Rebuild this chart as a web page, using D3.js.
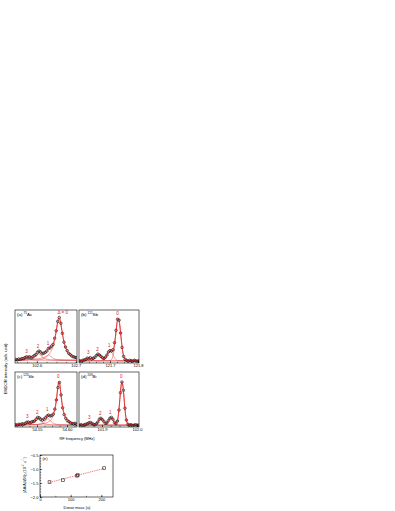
<!DOCTYPE html>
<html>
<head>
<meta charset="utf-8">
<script src="https://cdn.jsdelivr.net/npm/d3@7"></script>
<style>
  body { margin: 0; background: #fff; }
  svg { display: block; font-family: "Liberation Sans", Arial, sans-serif; }
</style>
</head>
<body>
<svg id="chart" width="395" height="511"></svg>
<script>
// ---------- data ----------
const panelTags = ["(a)", "(b)", "(c)", "(d)"];
const isoMass = ["75", "121", "123", "209"];
const isoElem = ["As", "Sb", "Sb", "Bi"];

// RF sweep of each ENDOR spectrum (MHz): first point and step
const sweepStart = [102.5456, 121.592, 54.5147, 101.8366];
const sweepStep = [0.004, 0.0054, 0.0026, 0.0043];

// measured ENDOR intensity (arb. unit)
const intensAs75 = [.08,.07,.09,.08,.10,.10,.12,.14,.13,.14,.12,.14,.17,.19,.24,.27,.25,.21,.22,.24,
                    .27,.33,.34,.38,.42,.56,.73,.94,1.03,.90,.67,.47,.36,.28,.22,.19,.16,.14,.13,.12];
const intensSb121 = [.05,.04,.06,.07,.08,.11,.10,.12,.09,.11,.13,.17,.20,.18,.15,.12,.10,.13,.18,.25,
                     .28,.27,.30,.46,.74,.99,.97,.68,.35,.15,.08,.06,.04,.06,.05,.04,.06,.05,.04,.05];
const intensSb123 = [.05,.04,.06,.05,.07,.06,.08,.10,.11,.09,.11,.12,.13,.17,.21,.20,.17,.15,.17,.20,
                     .24,.26,.24,.25,.28,.39,.59,.86,.97,.70,.42,.27,.19,.14,.12,.09,.08,.07,.08,.06];
const intensBi209 = [.04,.05,.03,.05,.06,.07,.09,.10,.08,.06,.05,.07,.11,.17,.19,.16,.12,.08,.09,.14,
                     .19,.21,.17,.10,.07,.13,.37,.75,.98,.80,.41,.15,.06,.04,.05,.03,.04,.05,.04,.04];

// fitted components: centre (MHz), amplitude, FWHM (MHz); order 0,1,2,3
const peakPosAs75 = [102.6572, 102.6308, 102.6051, 102.5756];
const peakAmpAs75 = [0.95, 0.12, 0.15, 0.05];
const peakFwhmAs75 = [0.0218, 0.0179, 0.0179, 0.0179];
const peakPosSb121 = [121.7296, 121.700, 121.6582, 121.625];
const peakAmpSb121 = [0.96, 0.22, 0.14, 0.06];
const peakFwhmSb121 = [0.0214, 0.025, 0.025, 0.025];
const peakPosSb123 = [54.5867, 54.5683, 54.5517, 54.535];
const peakAmpSb123 = [0.94, 0.14, 0.13, 0.04];
const peakFwhmSb123 = [0.010, 0.01167, 0.01167, 0.01167];
const peakPosBi209 = [101.9571, 101.9257, 101.8971, 101.8657];
const peakAmpBi209 = [0.94, 0.17, 0.15, 0.05];
const peakFwhmBi209 = [0.0143, 0.0157, 0.0171, 0.0171];
const fitBaseline = [0.06, 0.05, 0.04, 0.04];
const lineShape = ["lorentz", "gauss", "lorentz", "gauss"];

const peakLabelsAs = ["\u0394 = 0", "1", "2", "3"];
const peakLabels = ["0", "1", "2", "3"];

// frequency axes
const freqDomain = [[102.544, 102.703], [121.5893, 121.8036], [54.5133, 54.6167], [101.8343, 102.0057]];
const freqTicks = [[102.6, 102.7], [121.7, 121.8], [54.55, 54.60], [101.9, 102.0]];
const freqMinorStep = [0.025, 0.025, 0.0125, 0.025];
const freqFormat = [".1f", ".1f", ".2f", ".1f"];

// panel (e)
const donorMass = [31, 75, 121, 123, 209];
const shiftRatio = [-1.47, -1.40, -1.24, -1.22, -0.97];
const fitMass = [31, 209];
const fitRatio = [-1.48, -0.98];
const massTicks = [0, 100, 200];
const ratioTicks = [-2.0, -1.5, -1.0, -0.5];

// ---------- drawing ----------
const svg = d3.select("#chart");
const red = "#e3201f";
const fs = 4;

const intens = [intensAs75, intensSb121, intensSb123, intensBi209];
const peakPos = [peakPosAs75, peakPosSb121, peakPosSb123, peakPosBi209];
const peakAmp = [peakAmpAs75, peakAmpSb121, peakAmpSb123, peakAmpBi209];
const peakFwhm = [peakFwhmAs75, peakFwhmSb121, peakFwhmSb123, peakFwhmBi209];

const boxes = [
  {x0: 15, x1: 77, y0: 310, y1: 363},
  {x0: 79, x1: 139, y0: 310, y1: 363},
  {x0: 15, x1: 77, y0: 372, y1: 427},
  {x0: 79, x1: 139, y0: 372, y1: 427}
];

function shape(kind, f, c, a, w) {
  const u = (f - c) / w;
  if (kind === "gauss") return a * Math.exp(-4 * Math.LN2 * u * u);
  return a / (1 + 4 * u * u);
}

boxes.forEach((b, i) => {
  const x = d3.scaleLinear().domain(freqDomain[i]).range([b.x0, b.x1]);
  const y = d3.scaleLinear().domain([0, 1.2]).range([b.y1, b.y0]);
  const g = svg.append("g");

  g.append("clipPath").attr("id", "clip" + i)
    .append("rect").attr("x", b.x0).attr("y", b.y0)
    .attr("width", b.x1 - b.x0).attr("height", b.y1 - b.y0);
  const plot = g.append("g").attr("clip-path", "url(#clip" + i + ")");

  const grid = d3.range(freqDomain[i][0], freqDomain[i][1], (freqDomain[i][1] - freqDomain[i][0]) / 300);
  const comp = (f, k) => shape(lineShape[i], f, peakPos[i][k], peakAmp[i][k], peakFwhm[i][k]);
  const fit = f => fitBaseline[i] + d3.sum(peakPos[i], (c, k) => comp(f, k));

  // components
  peakPos[i].forEach((c, k) => {
    plot.append("path")
      .datum(grid)
      .attr("fill", "none").attr("stroke", red).attr("stroke-width", 0.45)
      .attr("d", d3.line().x(f => x(f)).y(f => y(fitBaseline[i] + comp(f, k))));
  });

  // data points
  const pts = intens[i].map((v, j) => [sweepStart[i] + j * sweepStep[i], v]);
  plot.selectAll("circle").data(pts).enter().append("circle")
    .attr("cx", d => x(d[0])).attr("cy", d => y(d[1])).attr("r", 1.25)
    .attr("fill", "none").attr("stroke", "#111").attr("stroke-width", 0.7);

  // total fit
  plot.append("path")
    .datum(grid)
    .attr("fill", "none").attr("stroke", red).attr("stroke-width", 0.9)
    .attr("d", d3.line().x(f => x(f)).y(f => y(fit(f))));

  // frame
  g.append("rect").attr("x", b.x0).attr("y", b.y0)
    .attr("width", b.x1 - b.x0).attr("height", b.y1 - b.y0)
    .attr("fill", "none").attr("stroke", "#000").attr("stroke-width", 0.6);

  // x axis
  const minor = d3.range(Math.ceil(freqDomain[i][0] / freqMinorStep[i]) * freqMinorStep[i], freqDomain[i][1], freqMinorStep[i]);
  g.append("g").attr("transform", `translate(0,${b.y1})`)
    .call(d3.axisBottom(x).tickValues(minor).tickSize(-1.2).tickFormat(""))
    .call(a => a.select(".domain").remove())
    .call(a => a.selectAll("line").attr("stroke-width", 0.5));
  g.append("g").attr("transform", `translate(0,${b.y1})`)
    .call(d3.axisBottom(x).tickValues(freqTicks[i]).tickSize(-2.2).tickPadding(1.6).tickFormat(d3.format(freqFormat[i])))
    .call(a => a.select(".domain").remove())
    .call(a => a.selectAll("line").attr("stroke-width", 0.5))
    .call(a => a.selectAll("text").attr("font-size", fs).attr("font-family", "Liberation Sans, Arial, sans-serif"));

  // title
  const t = g.append("text").attr("x", b.x0 + 2).attr("y", b.y0 + 5.6).attr("font-size", 4.4);
  t.append("tspan").text(panelTags[i] + " ");
  t.append("tspan").attr("font-size", 3).attr("dy", -1.5).text(isoMass[i]);
  t.append("tspan").attr("dy", 1.5).text(isoElem[i]);

  // peak labels
  const labs = i === 0 ? peakLabelsAs : peakLabels;
  peakPos[i].forEach((c, k) => {
    const lx = x(c) - (i === 0 && k === 0 ? 1.6 : 0.8);
    g.append("text")
      .attr("x", lx).attr("y", y(fit(c)) - 3.6)
      .attr("text-anchor", i === 0 && k === 0 ? "start" : "middle")
      .attr("font-size", 4.6).attr("fill", red)
      .text(labs[k]);
  });
});

// shared axis titles
svg.append("text")
  .attr("transform", "translate(6.5,369) rotate(-90)")
  .attr("text-anchor", "middle").attr("font-size", 4.2)
  .text("ENDOR intensity (arb. unit)");
svg.append("text")
  .attr("x", 77).attr("y", 439.5)
  .attr("text-anchor", "middle").attr("font-size", 3.9)
  .text("RF frequency (MHz)");

// ---------- panel (e) ----------
const eb = {x0: 40, x1: 113, y0: 455, y1: 497};
const xe = d3.scaleLinear().domain([0, 238]).range([eb.x0, eb.x1]);
const ye = d3.scaleLinear().domain([-2.0, -0.5]).range([eb.y1, eb.y0]);
const ge = svg.append("g");

ge.append("rect").attr("x", eb.x0).attr("y", eb.y0)
  .attr("width", eb.x1 - eb.x0).attr("height", eb.y1 - eb.y0)
  .attr("fill", "none").attr("stroke", "#000").attr("stroke-width", 0.6);

ge.append("g").attr("transform", `translate(${eb.x0},0)`)
  .call(d3.axisLeft(ye).tickValues(d3.range(-2.0, -0.45, 0.1)).tickSize(-1.2).tickFormat(""))
  .call(a => a.select(".domain").remove())
  .call(a => a.selectAll("line").attr("stroke-width", 0.5));
ge.append("g").attr("transform", `translate(${eb.x0},0)`)
  .call(d3.axisLeft(ye).tickValues(ratioTicks).tickSize(-2.2).tickPadding(1.6).tickFormat(d3.format(".1f")))
  .call(a => a.select(".domain").remove())
  .call(a => a.selectAll("line").attr("stroke-width", 0.5))
  .call(a => a.selectAll("text").attr("font-size", fs).attr("font-family", "Liberation Sans, Arial, sans-serif"));

ge.append("g").attr("transform", `translate(0,${eb.y1})`)
  .call(d3.axisBottom(xe).tickValues(d3.range(0, 238, 50)).tickSize(-1.2).tickFormat(""))
  .call(a => a.select(".domain").remove())
  .call(a => a.selectAll("line").attr("stroke-width", 0.5));
ge.append("g").attr("transform", `translate(0,${eb.y1})`)
  .call(d3.axisBottom(xe).tickValues(massTicks).tickSize(-2.2).tickPadding(1.6))
  .call(a => a.select(".domain").remove())
  .call(a => a.selectAll("line").attr("stroke-width", 0.5))
  .call(a => a.selectAll("text").attr("font-size", fs).attr("font-family", "Liberation Sans, Arial, sans-serif"));

ge.append("path")
  .datum(fitMass.map((m, j) => [m, fitRatio[j]]))
  .attr("fill", "none").attr("stroke", red).attr("stroke-width", 0.6)
  .attr("stroke-dasharray", "1.4,0.9")
  .attr("d", d3.line().x(d => xe(d[0])).y(d => ye(d[1])));

ge.selectAll(".sq").data(donorMass.map((m, j) => [m, shiftRatio[j]])).enter()
  .append("rect").attr("class", "sq")
  .attr("x", d => xe(d[0]) - 1.4).attr("y", d => ye(d[1]) - 1.4)
  .attr("width", 2.8).attr("height", 2.8)
  .attr("fill", "none").attr("stroke", "#3a1414").attr("stroke-width", 0.6);

ge.append("text").attr("x", eb.x0 + 2.5).attr("y", eb.y0 + 5.2).attr("font-size", 4.1).text("(e)");

ge.append("text").attr("x", 77).attr("y", 509)
  .attr("text-anchor", "middle").attr("font-size", 3.9)
  .text("Donor mass (u)");

const yl = ge.append("text")
  .attr("transform", "translate(25.5,475) rotate(-90)")
  .attr("text-anchor", "middle").attr("font-size", 3.7);
yl.append("tspan").text("(\u0394A/A)/\u0394M");
yl.append("tspan").attr("font-size", 2.6).attr("dy", 1).text("D");
yl.append("tspan").attr("dy", -1).text(" (10");
yl.append("tspan").attr("font-size", 2.6).attr("dy", -1.4).text("\u22124");
yl.append("tspan").attr("dy", 1.4).text(" u");
yl.append("tspan").attr("font-size", 2.6).attr("dy", -1.4).text("\u22121");
yl.append("tspan").attr("dy", 1.4).text(")");
</script>
</body>
</html>
